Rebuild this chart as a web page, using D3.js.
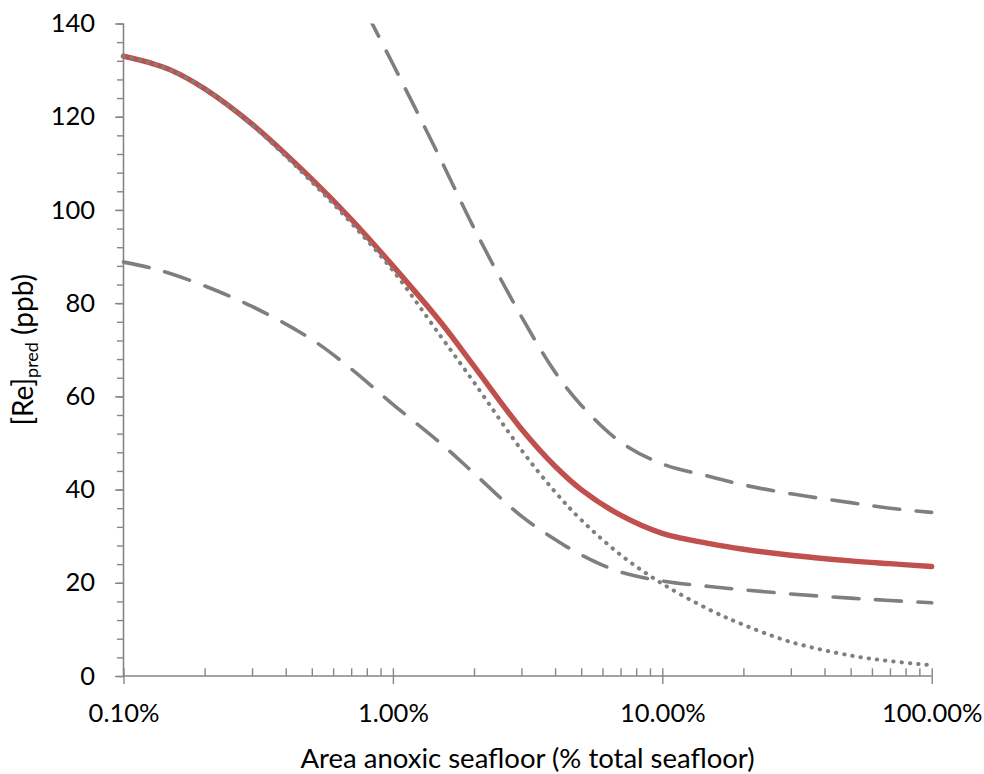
<!DOCTYPE html>
<html>
<head>
<meta charset="utf-8">
<script src="https://cdn.jsdelivr.net/npm/d3@7/dist/d3.min.js"></script>
<style>
  html, body { margin: 0; padding: 0; background: #fff; }
  svg { display: block; }
  text { font-family: Lato, "Open Sans", sans-serif; fill: #000; }
</style>
</head>
<body>
<svg id="chart" width="984" height="774"></svg>
<script>
// Area anoxic seafloor (% of total seafloor)
const areaPct = [0.1, 0.125, 0.15, 0.2, 0.3, 0.5, 0.7, 1, 1.5, 2, 3, 4, 5, 7, 10, 15, 20, 30, 50, 70, 100];
// Predicted [Re] (ppb), central estimate (solid red)
const reCentral = [133, 131.6, 130, 126, 118.4, 106.6, 98, 88, 76, 66.5, 53, 45, 40, 34.5, 30.6, 28.4, 27.2, 25.9, 24.7, 24.1, 23.5];
// Dotted gray series
const reDotted = [133, 131.6, 130, 126, 118.2, 106, 97.2, 87, 73, 63, 48.5, 39.5, 33.5, 26, 19.8, 14.2, 11, 7.3, 4.4, 3.2, 2.3];
// Lower dashed bound
const reLower = [88.8, 87.6, 86.3, 83.7, 79.3, 72.2, 65.9, 58.3, 50, 43.5, 34.3, 29.3, 26, 22.3, 20.4, 19.2, 18.5, 17.6, 16.7, 16.2, 15.7];
// Upper dashed bound (starts above the plot top and is clipped)
const upperPct = [0.8, 1, 1.5, 2, 3, 4, 5, 7, 10, 15, 20, 30, 50, 70, 100];
const reUpper = [142.2, 131.3, 111, 96.1, 77.1, 65.2, 58.1, 50.2, 45.5, 42.8, 41, 39.1, 37.2, 36, 35.1];

const xMajorTicks = [0.1, 1, 10, 100];
const xTickLabels = ["0.10%", "1.00%", "10.00%", "100.00%"];
const yMajorTicks = [0, 20, 40, 60, 80, 100, 120, 140];
const xTitle = "Area anoxic seafloor (% total seafloor)";

const svg = d3.select("#chart");
const pLeft = 123.5, pRight = 931.7, pTop = 23.5, pBottom = 676;

const x = d3.scaleLog().domain([0.1, 100]).range([pLeft, pRight]);
const y = d3.scaleLinear().domain([0, 140]).range([pBottom, pTop]);

const axisColor = "#868686";
const gray = "#7f7f7f";
const red = "#c0504d";

// clip
svg.append("defs").append("clipPath").attr("id", "plotclip")
  .append("rect").attr("x", pLeft - 5).attr("y", pTop).attr("width", pRight - pLeft + 10).attr("height", pBottom - pTop + 5);

// minor x ticks (inside, upward)
const xMinor = [];
[0.1, 1, 10].forEach(d => { for (let k = 2; k <= 9; k++) xMinor.push(+(d * k).toPrecision(3)); });
const gxMinor = svg.append("g").attr("transform", `translate(0,${pBottom})`)
  .call(d3.axisTop(x).tickValues(xMinor.concat(xMajorTicks)).tickSize(7.7).tickFormat(""));
// major x ticks (downward) with labels
const gx = svg.append("g").attr("transform", `translate(0,${pBottom})`)
  .call(d3.axisBottom(x).tickValues(xMajorTicks).tickSize(8).tickPadding(20)
    .tickFormat((d, i) => xTickLabels[i]));

// y minor ticks
const yMinor = d3.range(0, 141, 4);
const gyMinor = svg.append("g").attr("transform", `translate(${pLeft},0)`)
  .call(d3.axisLeft(y).tickValues(yMinor).tickSize(6.5).tickFormat(""));
const gy = svg.append("g").attr("transform", `translate(${pLeft},0)`)
  .call(d3.axisLeft(y).tickValues(yMajorTicks).tickSize(8.5).tickPadding(20));

[gxMinor, gx, gyMinor, gy].forEach(g => {
  g.selectAll(".tick line").attr("stroke", axisColor).attr("stroke-width", 1.4);
  g.selectAll("text").style("font-family", "Lato, 'Open Sans', sans-serif")
    .style("font-size", "25.5px").attr("fill", "#000");
  g.select("path.domain").remove();
});
svg.append("line").attr("x1", pLeft).attr("x2", pRight).attr("y1", pBottom).attr("y2", pBottom)
  .attr("stroke", axisColor).attr("stroke-width", 1.6);
svg.append("line").attr("x1", pLeft).attr("x2", pLeft).attr("y1", pTop).attr("y2", pBottom)
  .attr("stroke", axisColor).attr("stroke-width", 1.6);

const plot = svg.append("g").attr("clip-path", "url(#plotclip)");
const line = d3.line().x(d => x(d[0])).y(d => y(d[1])).curve(d3.curveCatmullRom.alpha(0.5));

const zip = (xs, ys) => xs.map((v, i) => [v, ys[i]]);

plot.append("path").datum(zip(upperPct, reUpper))
  .attr("d", line).attr("fill", "none").attr("stroke", gray).attr("stroke-width", 3.6)
  .attr("stroke-linecap", "round").attr("stroke-dasharray", "26 16.5");
plot.append("path").datum(zip(areaPct, reLower))
  .attr("d", line).attr("fill", "none").attr("stroke", gray).attr("stroke-width", 3.6)
  .attr("stroke-linecap", "round").attr("stroke-dasharray", "26 16.5");
plot.append("path").datum(zip(areaPct, reCentral))
  .attr("d", line).attr("fill", "none").attr("stroke", red).attr("stroke-width", 5.4)
  .attr("stroke-linecap", "round");
plot.append("path").datum(zip(areaPct, reDotted))
  .attr("d", line).attr("fill", "none").attr("stroke", gray).attr("stroke-width", 4)
  .attr("stroke-linecap", "round").attr("stroke-dasharray", "0.4 7.9");

// axis titles
svg.append("text").attr("x", (pLeft + pRight) / 2).attr("y", 768)
  .attr("text-anchor", "middle").style("font-size", "27.5px").text(xTitle);

const yt = svg.append("text").attr("transform", `translate(33,${(pTop + pBottom) / 2}) rotate(-90)`)
  .attr("text-anchor", "middle").style("font-size", "28px");
yt.append("tspan").text("[Re]");
yt.append("tspan").attr("dy", 5).style("font-size", "18px").text("pred");
yt.append("tspan").attr("dy", -5).text(" (ppb)");
</script>
</body>
</html>
